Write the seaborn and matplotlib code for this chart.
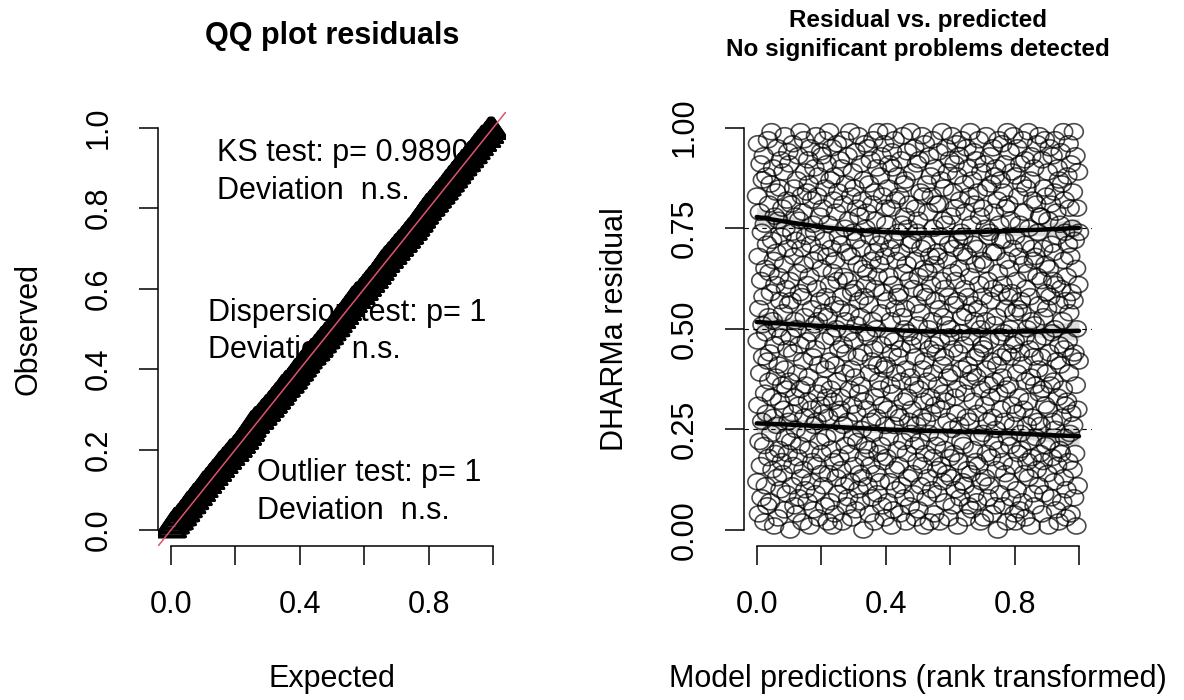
import numpy as np
import pandas as pd
import matplotlib
matplotlib.use("Agg")
import matplotlib.pyplot as plt
from matplotlib.path import Path
import seaborn as sns

# ---------------- data ----------------
# scaled (DHARMa) residuals, listed in the order of the model predictions
scaled_residuals = [
    0.83,0.12,0.47,0.96,0.31,0.68,0.04,0.55,0.22,0.79,0.39,0.91,0.16,0.62,0.08,0.74,0.27,0.51,0.87,0.43,
    0.58,0.93,0.21,0.02,0.76,0.34,0.65,0.11,0.49,0.88,0.29,0.71,0.06,0.42,0.97,0.18,0.53,0.81,0.37,0.64,
    0.44,0.07,0.86,0.59,0.24,0.99,0.33,0.72,0.15,0.52,0.90,0.28,0.67,0.01,0.46,0.78,0.19,0.61,0.38,0.84,
    0.69,0.26,0.13,0.95,0.50,0.03,0.77,0.41,0.63,0.20,0.85,0.32,0.57,0.10,0.92,0.48,0.73,0.17,0.36,0.80,
    0.14,0.54,0.89,0.30,0.66,0.05,0.98,0.40,0.75,0.23,0.60,0.35,0.09,0.82,0.45,0.70,0.19,0.94,0.27,0.56,
    0.91,0.37,0.62,0.00,0.48,0.81,0.22,0.57,0.11,0.74,0.29,0.96,0.44,0.16,0.68,0.85,0.06,0.33,0.52,0.78,
    0.25,0.72,0.04,0.50,0.87,0.39,0.18,0.64,0.93,0.31,0.08,0.77,0.46,0.59,0.21,0.99,0.35,0.13,0.70,0.83,
    0.58,0.02,0.79,0.42,0.15,0.66,0.97,0.28,0.53,0.89,0.10,0.36,0.73,0.24,0.47,0.84,0.61,0.07,0.32,0.92,
    0.38,0.86,0.20,0.63,0.01,0.95,0.49,0.71,0.12,0.30,0.55,0.82,0.17,0.43,0.76,0.05,0.67,0.26,0.90,0.51,
    0.74,0.45,0.09,0.98,0.27,0.60,0.16,0.83,0.34,0.52,0.03,0.88,0.41,0.69,0.22,0.78,0.57,0.31,0.14,0.94,
    0.19,0.65,0.93,0.36,0.80,0.11,0.54,0.29,0.97,0.47,0.72,0.06,0.85,0.40,0.58,0.23,0.91,0.33,0.68,0.02,
    0.53,0.28,0.76,0.14,0.99,0.42,0.61,0.07,0.87,0.35,0.20,0.70,0.48,0.95,0.01,0.64,0.32,0.82,0.17,0.56,
    0.88,0.04,0.41,0.67,0.24,0.79,0.50,0.13,0.96,0.37,0.62,0.09,0.84,0.29,0.73,0.45,0.18,0.92,0.55,0.30,
    0.33,0.71,0.15,0.90,0.58,0.02,0.46,0.81,0.26,0.63,0.97,0.11,0.39,0.75,0.52,0.21,0.86,0.44,0.06,0.69,
    0.62,0.93,0.27,0.08,0.49,0.77,0.19,0.54,0.35,0.99,0.12,0.68,0.83,0.40,0.03,0.59,0.31,0.89,0.23,0.74,
    0.47,0.16,0.85,0.60,0.38,0.94,0.05,0.72,0.29,0.51,0.80,0.22,0.66,0.43,0.98,0.10,0.57,0.34,0.78,0.14,
    0.07,0.53,0.36,0.91,0.70,0.25,0.82,0.13,0.44,0.65,0.00,0.87,0.32,0.58,0.18,0.96,0.49,0.75,0.21,0.61,
    0.79,0.30,0.64,0.11,0.95,0.48,0.20,0.56,0.86,0.04,0.39,0.73,0.16,0.92,0.27,0.67,0.42,0.08,0.81,0.52,
    0.24,0.97,0.45,0.69,0.02,0.84,0.33,0.60,0.14,0.77,0.50,0.28,0.90,0.09,0.63,0.41,0.99,0.19,0.71,0.37,
    0.66,0.12,0.88,0.35,0.54,0.21,0.93,0.46,0.06,0.73,0.31,0.83,0.59,0.17,0.40,0.96,0.03,0.68,0.26,0.80,
    0.41,0.76,0.18,0.57,0.99,0.30,0.07,0.85,0.63,0.23,0.48,0.91,0.12,0.70,0.36,0.52,0.80,0.01,0.44,0.94,
    0.90,0.34,0.61,0.05,0.72,0.47,0.26,0.97,0.15,0.55,0.82,0.39,0.10,0.67,0.29,0.88,0.20,0.58,0.74,0.43,
    0.16,0.59,0.83,0.28,0.04,0.69,0.45,0.92,0.37,0.11,0.76,0.53,0.98,0.22,0.64,0.32,0.86,0.08,0.50,0.78,
    0.55,0.87,0.02,0.40,0.66,0.19,0.94,0.33,0.75,0.13,0.49,0.81,0.27,0.62,0.06,0.71,0.38,0.99,0.24,0.46,
    0.30,0.72,0.48,0.14,0.89,0.60,0.09,0.36,0.95,0.21,0.67,0.43,0.80,0.03,0.56,0.26,0.91,0.74,0.17,0.51,
    0.77,0.05,0.63,0.35,0.92,0.22,0.54,0.84,0.11,0.47,0.70,0.28,0.98,0.40,0.16,0.59,0.83,0.32,0.01,0.65,
    0.42,0.96,0.19,0.71,0.27,0.58,0.08,0.86,0.37,0.64,0.13,0.79,0.50,0.24,0.93,0.45,0.02,0.68,0.33,0.88,
    0.61,0.29,0.83,0.10,0.52,0.97,0.39,0.18,0.75,0.46,0.04,0.66,0.90,0.31,0.57,0.21,0.81,0.44,0.69,0.15,
    0.09,0.68,0.36,0.94,0.23,0.81,0.55,0.02,0.47,0.73,0.30,0.87,0.16,0.62,0.99,0.41,0.12,0.77,0.53,0.34,
    0.85,0.43,0.20,0.60,0.07,0.76,0.32,0.95,0.51,0.14,0.67,0.27,0.89,0.38,0.58,0.03,0.71,0.48,0.92,0.18,
    0.50,0.13,0.78,0.39,0.98,0.25,0.64,0.06,0.84,0.45,0.70,0.19,0.56,0.91,0.33,0.80,0.10,0.62,0.29,0.96,
    0.35,0.88,0.57,0.01,0.72,0.44,0.17,0.93,0.26,0.65,0.82,0.08,0.49,0.74,0.22,0.97,0.40,0.53,0.12,0.69,
    0.73,0.21,0.46,0.86,0.11,0.60,0.34,0.79,0.03,0.54,0.95,0.28,0.68,0.15,0.41,0.90,0.58,0.06,0.37,0.83,
    0.27,0.63,0.99,0.14,0.48,0.76,0.05,0.39,0.87,0.56,0.20,0.71,0.32,0.94,0.09,0.52,0.81,0.43,0.66,0.17,
    0.92,0.38,0.07,0.70,0.29,0.84,0.55,0.16,0.97,0.44,0.61,0.23,0.78,0.02,0.50,0.35,0.89,0.12,0.67,0.46,
    0.58,0.80,0.24,0.45,0.03,0.66,0.91,0.31,0.13,0.75,0.52,0.98,0.40,0.19,0.85,0.27,0.62,0.08,0.73,0.36,
    0.11,0.47,0.74,0.93,0.33,0.57,0.18,0.86,0.42,0.04,0.69,0.28,0.95,0.60,0.22,0.79,0.37,0.51,0.88,0.06,
    0.69,0.25,0.90,0.53,0.15,0.41,0.82,0.00,0.64,0.34,0.97,0.20,0.76,0.48,0.09,0.59,0.87,0.30,0.72,0.43,
    0.38,0.96,0.61,0.17,0.84,0.06,0.49,0.72,0.27,0.91,0.14,0.55,0.80,0.35,0.67,0.02,0.44,0.99,0.23,0.58,
    0.81,0.12,0.36,0.65,0.94,0.50,0.21,0.77,0.43,0.08,0.59,0.89,0.31,0.70,0.16,0.46,0.98,0.26,0.54,0.04,
    0.47,0.73,0.02,0.88,0.29,0.62,0.10,0.39,0.95,0.55,0.19,0.83,0.68,0.33,0.05,0.76,0.44,0.91,0.24,0.57,
    0.20,0.54,0.86,0.41,0.07,0.97,0.66,0.30,0.79,0.14,0.48,0.71,0.92,0.03,0.37,0.60,0.85,0.26,0.50,0.17,
    0.64,0.32,0.99,0.13,0.75,0.45,0.22,0.58,0.87,0.01,0.38,0.93,0.52,0.18,0.70,0.28,0.82,0.09,0.43,0.67,
    0.90,0.06,0.51,0.36,0.68,0.23,0.81,0.47,0.15,0.96,0.63,0.27,0.74,0.40,0.11,0.56,0.98,0.34,0.78,0.19,
    0.26,0.78,0.43,0.62,0.04,0.92,0.35,0.17,0.70,0.53,0.85,0.09,0.48,0.97,0.31,0.66,0.21,0.59,0.83,0.39,
    0.55,0.14,0.89,0.30,0.77,0.01,0.65,0.44,0.95,0.22,0.58,0.36,0.81,0.08,0.71,0.49,0.18,0.93,0.27,0.62,
    0.37,0.69,0.12,0.84,0.50,0.97,0.25,0.61,0.05,0.79,0.42,0.16,0.73,0.90,0.33,0.56,0.02,0.87,0.46,0.20,
    0.76,0.41,0.94,0.19,0.60,0.28,0.86,0.07,0.52,0.35,0.99,0.67,0.13,0.45,0.82,0.23,0.74,0.31,0.57,0.03,
    0.10,0.63,0.32,0.88,0.47,0.71,0.17,0.96,0.39,0.54,0.80,0.24,0.68,0.04,0.91,0.29,0.59,0.43,0.75,0.15,
    0.84,0.26,0.57,0.99,0.08,0.44,0.72,0.19,0.93,0.36,0.65,0.01,0.50,0.80,0.30,0.11,0.89,0.61,0.42,0.74,
]

# fitted quantile curves
quant_x = [0.0, 0.1, 0.2, 0.3, 0.4, 0.5, 0.6, 0.7, 0.8, 0.9, 1.0]
q25_y = [0.265, 0.262, 0.258, 0.254, 0.250, 0.247, 0.245, 0.243, 0.240, 0.236, 0.233]
q50_y = [0.517, 0.512, 0.507, 0.502, 0.498, 0.494, 0.492, 0.492, 0.493, 0.494, 0.495]
q75_y = [0.778, 0.765, 0.753, 0.745, 0.740, 0.738, 0.739, 0.741, 0.744, 0.747, 0.751]
band_halfwidth = [0.024, 0.016, 0.012, 0.010, 0.009, 0.009, 0.009, 0.010, 0.012, 0.016, 0.024]
quantile_levels = [0.25, 0.50, 0.75]

ks_text = ["KS test: p= 0.98909", "Deviation  n.s."]
disp_text = ["Dispersion test: p= 1", "Deviation  n.s."]
out_text = ["Outlier test: p= 1", "Deviation  n.s."]

x_ticks = [0.0, 0.2, 0.4, 0.6, 0.8, 1.0]
x_ticklabels = ["0.0", "", "0.4", "", "0.8", ""]
qq_yticks = [0.0, 0.2, 0.4, 0.6, 0.8, 1.0]
qq_yticklabels = ["0.0", "0.2", "0.4", "0.6", "0.8", "1.0"]
res_yticks = [0.0, 0.25, 0.5, 0.75, 1.0]
res_yticklabels = ["0.00", "0.25", "0.50", "0.75", "1.00"]

# ---------------- derived tables ----------------
n = len(scaled_residuals)
obs_sorted = np.sort(np.array(scaled_residuals))
expected = (np.arange(1, n + 1) - 0.5) / n          # uniform quantiles
df_qq = pd.DataFrame({"Expected": expected, "Observed": obs_sorted})
pred_rank = pd.Series(np.arange(n)).rank(pct=True).values  # rank-transformed predictions
df_res = pd.DataFrame({"pred": pred_rank, "res": scaled_residuals})

# ---------------- style ----------------
sns.set_theme(style="ticks")
plt.rcParams["font.family"] = ["Liberation Sans", "DejaVu Sans"]
plt.rcParams.update({
    "axes.edgecolor": "black", "axes.labelcolor": "black", "text.color": "black",
    "xtick.color": "black", "ytick.color": "black", "axes.linewidth": 1.1,
})
FS = 22

fig = plt.figure(figsize=(11.84, 7), dpi=100)
ax1 = fig.add_axes([0.1335, 0.2199, 0.2940, 0.6207])
ax2 = fig.add_axes([0.6282, 0.2199, 0.2940, 0.6207])

# horizontally stretched markers (the reference is slightly wider than tall)
stretch = 1.18
tri = Path([(0.0, 1.1547), (-stretch, -0.5774), (stretch, -0.5774), (0.0, 1.1547)],
           [Path.MOVETO, Path.LINETO, Path.LINETO, Path.CLOSEPOLY])
theta = np.linspace(0, 2 * np.pi, 65)
ell = Path(np.column_stack([stretch * np.cos(theta), np.sin(theta)]), closed=True)

# ---------------- QQ panel ----------------
for lines, (tx, ty) in zip([ks_text, disp_text, out_text],
                           [(0.142, 0.916), (0.116, 0.520), (0.266, 0.121)]):
    ax1.text(tx, ty, lines[0], fontsize=FS, ha="left", va="baseline", zorder=1)
    ax1.text(tx, ty - 0.093, lines[1], fontsize=FS, ha="left", va="baseline", zorder=1)

sns.scatterplot(data=df_qq, x="Expected", y="Observed", ax=ax1, marker=tri, s=390,
                color="black", facecolor="none", edgecolor="black", linewidth=2.2,
                zorder=2, legend=False)
ax1.axline((0, 0), slope=1, color="#DF536B", lw=1.1, zorder=3)

# ---------------- residual vs predicted panel ----------------
sns.scatterplot(data=df_res, x="pred", y="res", ax=ax2, marker=ell, s=185,
                color="black", facecolor="none", edgecolor=(0, 0, 0, 0.7), linewidth=1.2,
                zorder=2, legend=False)
for lev in quantile_levels:
    ax2.axhline(lev, color="black", lw=0.8, ls=(0, (4, 4)), zorder=3)
qx = np.array(quant_x)
hw = np.array(band_halfwidth)
for qy in (q25_y, q50_y, q75_y):
    qy = np.array(qy)
    ax2.fill_between(qx, qy - hw, qy + hw, color=(0, 0, 0, 0.14), lw=0, zorder=4)
    sns.lineplot(x=qx, y=qy, ax=ax2, color="black", lw=3.2, zorder=5)

# ---------------- axes styling ----------------
for ax, yt, ytl in [(ax1, qq_yticks, qq_yticklabels), (ax2, res_yticks, res_yticklabels)]:
    ax.set_xlim(-0.04, 1.04)
    ax.set_ylim(-0.04, 1.04)
    ax.spines["top"].set_visible(False)
    ax.spines["right"].set_visible(False)
    ax.spines["left"].set_bounds(0, 1)
    ax.spines["bottom"].set_bounds(0, 1)
    ax.set_xticks(x_ticks)
    ax.set_xticklabels(x_ticklabels)
    ax.set_yticks(yt)
    ax.set_yticklabels(ytl)
    ax.tick_params(axis="both", direction="out", length=13.7, width=1.1,
                   labelsize=FS, pad=18, bottom=True, left=True)
    ax.tick_params(axis="y", labelrotation=90)
    for lab in ax.get_yticklabels():
        lab.set_va("center")

ax1.set_xlabel("Expected", fontsize=FS, va="center")
ax1.set_ylabel("Observed", fontsize=FS, va="center")
ax2.set_xlabel("Model predictions (rank transformed)", fontsize=FS, va="center")
ax2.set_ylabel("DHARMa residual", fontsize=FS, va="center")
for ax in (ax1, ax2):
    ax.xaxis.set_label_coords(0.5, -0.305)
    ax.yaxis.set_label_coords(-0.371, 0.5)

ax1.annotate("QQ plot residuals", xy=(0.5, 1), xycoords="axes fraction",
             xytext=(0, 48.7), textcoords="offset points", ha="center", va="baseline",
             fontsize=FS, fontweight="bold")
ax2.annotate("Residual vs. predicted", xy=(0.5, 1), xycoords="axes fraction",
             xytext=(0, 61.0), textcoords="offset points", ha="center", va="baseline",
             fontsize=17.5, fontweight="bold")
ax2.annotate("No significant problems detected", xy=(0.5, 1), xycoords="axes fraction",
             xytext=(0, 40.2), textcoords="offset points", ha="center", va="baseline",
             fontsize=17.5, fontweight="bold")

fig.savefig("out.png", dpi=100, facecolor="white")
